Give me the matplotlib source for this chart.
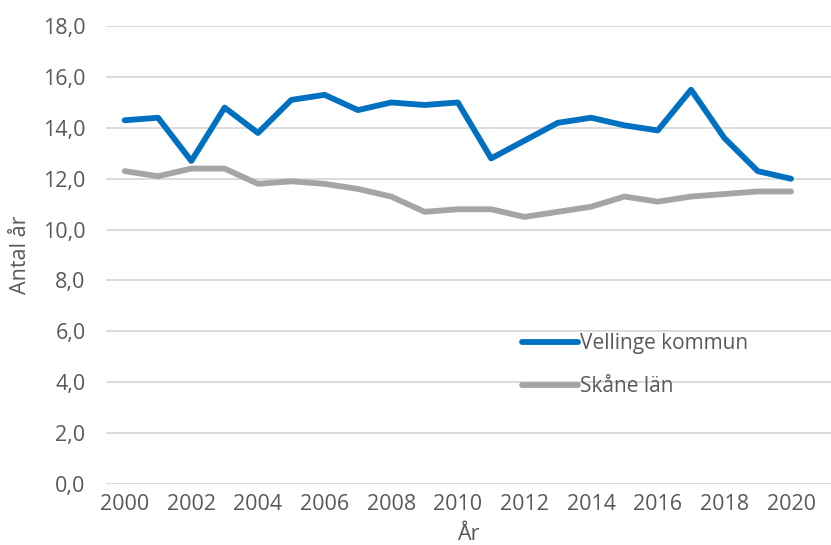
import numpy as np
import matplotlib.pyplot as plt

# Data
years = list(range(2000, 2021))
vellinge = [14.3, 14.4, 12.7, 14.8, 13.8, 15.1, 15.3, 14.7, 15.0, 14.9, 15.0,
            12.8, 13.5, 14.2, 14.4, 14.1, 13.9, 15.5, 13.6, 12.3, 12.0]
skane = [12.3, 12.1, 12.4, 12.4, 11.8, 11.9, 11.8, 11.6, 11.3, 10.7, 10.8,
         10.8, 10.5, 10.7, 10.9, 11.3, 11.1, 11.3, 11.4, 11.5, 11.5]
xticks = list(range(2000, 2021, 2))
yticks = np.arange(0, 18.1, 2)

text_col = '#595959'
fs = 15.5
plt.rcParams['font.family'] = ['Open Sans', 'DejaVu Sans']

fig = plt.figure(figsize=(8.31, 5.45), dpi=100)
ax = fig.add_axes([0.128, 0.112, 0.872, 0.840])

ax.plot(years, vellinge, color='#0070C0', lw=4.2, solid_capstyle='round',
        solid_joinstyle='round', label='Vellinge kommun')
ax.plot(years, skane, color='#A5A5A5', lw=4.2, solid_capstyle='round',
        solid_joinstyle='round', label='Skåne län')

ax.set_xlim(1999.45, 2021.2)
ax.set_ylim(0, 18)
ax.set_xticks(xticks)
ax.set_yticks(yticks)
ax.set_yticklabels([f'{v:.1f}'.replace('.', ',') for v in yticks])
ax.tick_params(length=0, labelsize=fs, labelcolor=text_col)
ax.tick_params(axis='y', pad=15)
ax.tick_params(axis='x', pad=7)

ax.grid(axis='y', color='#D9D9D9', lw=1.3)
ax.set_axisbelow(True)
for s in ax.spines.values():
    s.set_visible(False)

ax.set_ylabel('Antal år', fontsize=fs, color=text_col)
ax.yaxis.set_label_coords(-0.104, 0.5)
ax.set_xlabel('År', fontsize=fs, color=text_col)
ax.xaxis.set_label_coords(0.5, -0.088)

ax.legend(loc='upper left', bbox_to_anchor=(0.548, 0.37), frameon=False,
          fontsize=15, labelcolor=text_col, handlelength=2.7,
          handletextpad=0.06, labelspacing=1.05)

fig.savefig('out.png', dpi=100)
